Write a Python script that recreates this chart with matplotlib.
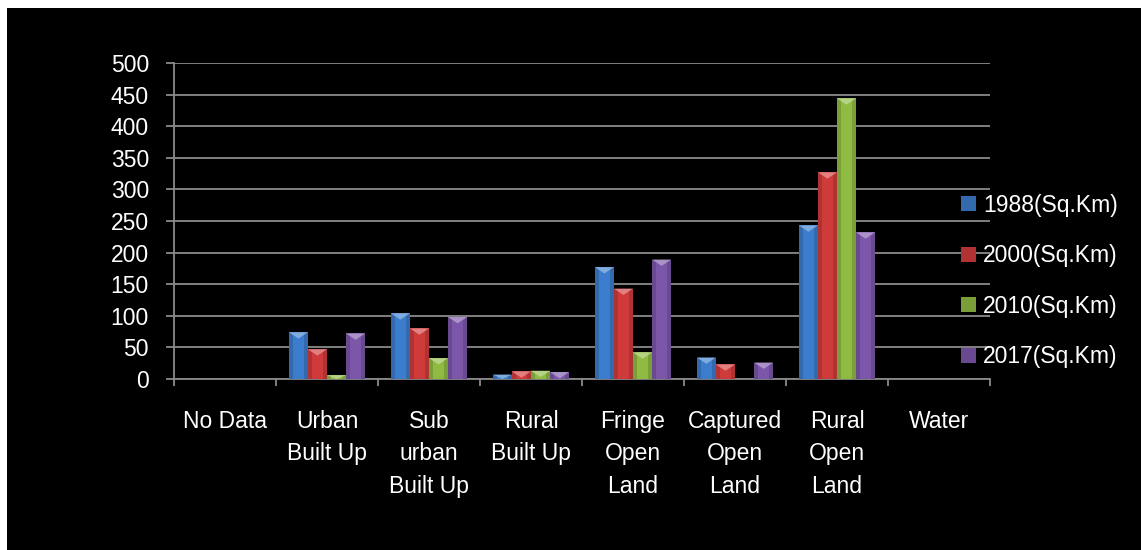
import numpy as np
import matplotlib
matplotlib.use('Agg')
import matplotlib.pyplot as plt
from matplotlib.patches import Rectangle, Polygon
from matplotlib.colors import to_rgb

plt.rcParams['font.family'] = ['Liberation Sans', 'DejaVu Sans']

categories = ['No Data', 'Urban\nBuilt Up', 'Sub\nurban\nBuilt Up', 'Rural\nBuilt Up',
              'Fringe\nOpen\nLand', 'Captured\nOpen\nLand', 'Rural\nOpen\nLand', 'Water']
series_names = ['1988(Sq.Km)', '2000(Sq.Km)', '2010(Sq.Km)', '2017(Sq.Km)']
v1988 = [0, 74, 104, 7, 177, 34, 243, 0]
v2000 = [0, 47, 80, 12, 143, 23, 327, 0]
v2010 = [0, 6, 33, 13, 42, 0, 444, 0]
v2017 = [0, 72, 98, 11, 189, 26, 232, 0]
colors = ['#3b7dcc', '#cf3b3b', '#8fbb43', '#7c56a9']
yticks = list(range(0, 501, 50))

W, H = 1141, 550
fig = plt.figure(figsize=(W / 100, H / 100), dpi=100, facecolor='white')
# black panel (white strip only along top and left)
fig.patches.append(Rectangle((7 / W, 0), 1, 1 - 8 / H, transform=fig.transFigure,
                             facecolor='black', edgecolor='none', zorder=-10))

ax = fig.add_axes([174 / W, 1 - 379 / H, (990 - 174) / W, (379 - 63) / H])
ax.set_facecolor('black')

x = np.arange(len(categories))
bw = 0.187
gray = '#8a8a8a'


def lighten(c, f):
    r = np.array(to_rgb(c))
    return tuple(r + (1 - r) * f)


def darken(c, f):
    return tuple(np.array(to_rgb(c)) * (1 - f))


handles = []
for k, (vals, col, name) in enumerate(zip([v1988, v2000, v2010, v2017], colors, series_names)):
    pos = x + (k - 1.5) * bw
    bars = ax.bar(pos, vals, width=bw, color=darken(col, 0.15), edgecolor='none',
                  zorder=3, label=name)
    ax.bar(pos, vals, width=bw * 0.6, color=col, edgecolor='none', zorder=3)
    handles.append(bars)
    for b in bars:
        h = b.get_height()
        if h <= 0:
            continue
        d = min(10, h)
        x0, w = b.get_x(), b.get_width()
        tri = Polygon([(x0, h), (x0 + w, h), (x0 + w / 2, h - d)], closed=True,
                      facecolor=lighten(col, 0.35), edgecolor='none', zorder=4)
        ax.add_patch(tri)

ax.set_xlim(-0.5, len(categories) - 0.5)
ax.set_ylim(0, 500)
ax.set_yticks(yticks)
ax.set_xticks(x)
ax.set_xticklabels(categories, linespacing=1.55)
ax.set_xticks(np.arange(-0.5, len(categories)), minor=True)
ax.yaxis.grid(True, color=gray, linewidth=1.3, zorder=1)
ax.set_axisbelow(True)

for s in ['top', 'right']:
    ax.spines[s].set_visible(False)
for s in ['left', 'bottom']:
    ax.spines[s].set_color(gray)
    ax.spines[s].set_linewidth(1.3)

ax.tick_params(axis='y', colors=gray, labelcolor='white', labelsize=16.5,
               length=6, width=1.3, pad=12)
ax.tick_params(axis='x', which='major', length=0, labelcolor='white',
               labelsize=16.5, pad=22)
ax.tick_params(axis='x', which='minor', length=5, width=1.3, color=gray)

leg = ax.legend(handles=handles, loc='center left', bbox_to_anchor=(961 / W, 1 - 281 / H),
                bbox_transform=fig.transFigure, frameon=False, fontsize=16.5,
                labelcolor='white', handlelength=0.65, handleheight=0.65,
                handletextpad=0.3, labelspacing=1.2, borderpad=0, borderaxespad=0)

fig.savefig('out.png', dpi=100, facecolor='white')
